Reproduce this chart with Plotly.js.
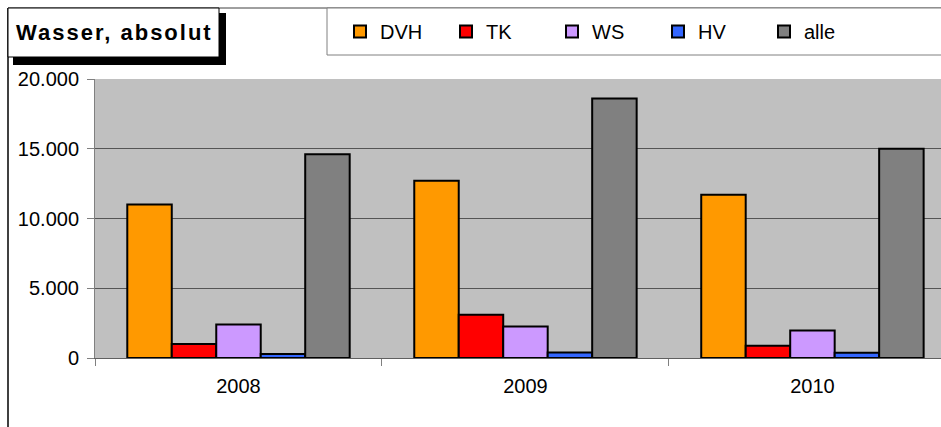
<!DOCTYPE html>
<html>
<head>
<meta charset="utf-8">
<script src="https://cdn.plot.ly/plotly-3.0.1.min.js"></script>
<style>
  html, body { margin: 0; padding: 0; background: #fff; }
  #chart { width: 941px; height: 427px; }
</style>
</head>
<body>
<div id="chart"></div>
<script>
// Wasser, absolut — grouped bars per year

const years = ["2008", "2009", "2010"];
const seriesNames = ["DVH", "TK", "WS", "HV", "alle"];
const seriesColors = ["#ff9900", "#ff0000", "#cc99ff", "#3366ff", "#808080"];

const dvh = [11000, 12700, 11700];
const tk = [1000, 3100, 870];
const ws = [2400, 2250, 1980];
const hv = [280, 400, 380];
const alle = [14600, 18600, 15000];

const yTicks = [0, 5000, 10000, 15000, 20000];

// plot area in pixels (for placing boxes outside the axes)
const PL = 95, PR = 941, PT = 79, PB = 358;
const px = x => (x - PL) / (PR - PL);
const py = y => (PB - y) / (PB - PT);

const FONT = "Arial, 'Liberation Sans', sans-serif";

const values = [dvh, tk, ws, hv, alle];
const traces = seriesNames.map((name, i) => ({
  type: "bar",
  name,
  x: years,
  y: values[i],
  marker: {
    color: seriesColors[i],
    line: { color: "#000", width: 2 }
  },
  hoverinfo: "x+y+name"
}));

const shapes = [
  // outer chart frame (left + top)
  { type: "line", xref: "paper", yref: "paper", x0: px(8), x1: px(8), y0: py(8), y1: py(440),
    line: { color: "#404040", width: 2 } },
  { type: "line", xref: "paper", yref: "paper", x0: px(8), x1: px(960), y0: py(8), y1: py(8),
    line: { color: "#404040", width: 1 } },
  // legend box
  { type: "rect", xref: "paper", yref: "paper", x0: px(327), x1: px(960), y0: py(8), y1: py(55),
    fillcolor: "#fff", line: { color: "#808080", width: 1 } },
  // title shadow + box
  { type: "rect", xref: "paper", yref: "paper", x0: px(13), x1: px(226), y0: py(13), y1: py(65),
    fillcolor: "#000", line: { width: 0 } },
  { type: "rect", xref: "paper", yref: "paper", x0: px(8), x1: px(219), y0: py(8), y1: py(57),
    fillcolor: "#fff", line: { color: "#000", width: 1 } }
];

const layout = {
  width: 941,
  height: 427,
  margin: { l: PL, r: 941 - PR, t: PT, b: 427 - PB, pad: 0 },
  paper_bgcolor: "#fff",
  plot_bgcolor: "#c0c0c0",
  font: { family: FONT, size: 20, color: "#000" },
  separators: ",.",
  barmode: "group",
  bargap: 0.225,
  bargroupgap: 0,
  showlegend: true,
  legend: {
    orientation: "h",
    x: px(340), y: py(12),
    xanchor: "left", yanchor: "top",
    bgcolor: "rgba(0,0,0,0)",
    borderwidth: 0,
    entrywidth: 61,
    traceorder: "normal",
    font: { family: FONT, size: 20, color: "#000" }
  },
  xaxis: {
    type: "category",
    range: [-0.5, 2.448],
    ticks: "outside",
    tickson: "boundaries",
    ticklen: 7,
    tickcolor: "#808080",
    showline: true,
    linecolor: "#606060",
    linewidth: 1,
    showgrid: false,
    ticklabelstandoff: 10,
    tickfont: { family: FONT, size: 20, color: "#000" },
    fixedrange: true
  },
  yaxis: {
    range: [0, 20000],
    tickvals: yTicks,
    tickformat: ",d",
    ticks: "outside",
    ticklen: 7,
    tickcolor: "#808080",
    showline: true,
    linecolor: "#808080",
    linewidth: 1,
    showgrid: true,
    gridcolor: "#555555",
    gridwidth: 1,
    zeroline: false,
    ticklabelstandoff: 4,
    tickfont: { family: FONT, size: 20, color: "#000" },
    fixedrange: true
  },
  shapes,
  annotations: [{
    xref: "paper", yref: "paper",
    x: px(114), y: py(32),
    xanchor: "center", yanchor: "middle",
    showarrow: false,
    text: "<b><span style=\"letter-spacing:2px\">Wasser, absolut</span></b>",
    font: { family: FONT, size: 22, color: "#000" }
  }]
};

Plotly.newPlot("chart", traces, layout, { displayModeBar: false, staticPlot: true });
</script>
</body>
</html>
